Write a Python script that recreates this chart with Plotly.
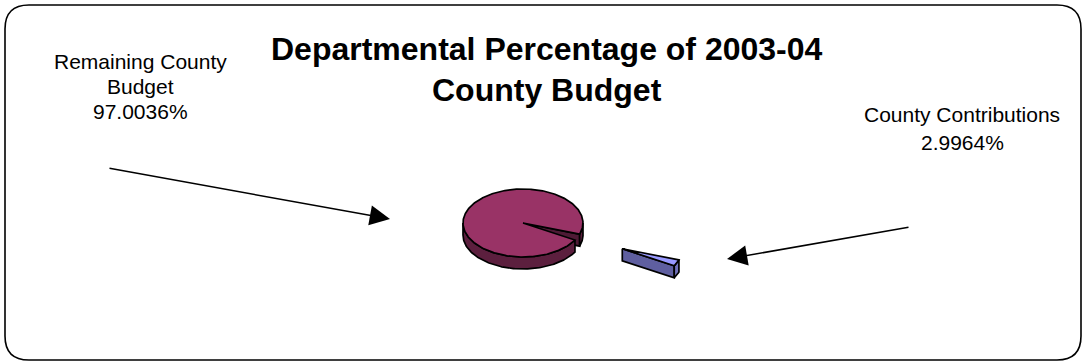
import numpy as np
import plotly.graph_objects as go

# ---- data ----
labels = ["Remaining County Budget", "County Contributions"]
label_lines = [["Remaining County", "Budget"], ["County Contributions"]]
values = [97.0036, 2.9964]
explode = [0.0, 1.82]          # pull-out distance, in pie radii
top_colors = ["#993366", "#9999FF"]
rim_colors = ["#5C1F3E", "#7070B8"]
wall_colors = ["#4E1A35", "#5F5FA0"]
title_lines = ["Departmental Percentage of 2003-04", "County Budget"]

# ---- pie geometry (pixel space) ----
W, H = 1083, 362
cx, cy = 523, 223
rx, ry, depth = 60, 34, 12
first_angle = 120  # degrees clockwise from 12 o'clock

fig = go.Figure()


def pt(c, t, dz=0.0):
    return c[0] + rx * np.cos(t), c[1] + ry * np.sin(t) + dz


def add_poly(xs, ys, color):
    xs = list(xs) + [xs[0]]
    ys = list(ys) + [ys[0]]
    fig.add_trace(go.Scatter(
        x=xs, y=ys, mode="lines", fill="toself", fillcolor=color,
        line=dict(color="black", width=1.7), hoverinfo="skip",
        showlegend=False))


total = sum(values)
cum = 0.0
slices = []
for i, v in enumerate(values):
    a0 = first_angle + cum / total * 360
    a1 = a0 + v / total * 360
    cum += v
    t0 = np.radians(a0 - 90)
    t1 = np.radians(a1 - 90)
    tm = 0.5 * (t0 + t1)
    c = (cx + explode[i] * rx * np.cos(tm), cy + explode[i] * ry * np.sin(tm))
    slices.append((i, t0, t1, c))

for i, t0, t1, c in slices:
    # radial walls facing the viewer
    for t, visible in ((t0, np.cos(t0) < 0), (t1, np.cos(t1) > 0)):
        if visible:
            px, py = pt(c, t)
            add_poly([c[0], px, px, c[0]], [c[1], py, py + depth, c[1] + depth],
                     wall_colors[i])
    # front rim (where sin t > 0)
    k0 = int(np.floor(t0 / (2 * np.pi))) - 1
    for k in range(k0, k0 + 4):
        lo = max(t0, 2 * np.pi * k)
        hi = min(t1, 2 * np.pi * k + np.pi)
        if hi > lo:
            ts = np.linspace(lo, hi, 120)
            xs_top, ys_top = pt(c, ts)
            xs = np.concatenate([xs_top, xs_top[::-1]])
            ys = np.concatenate([ys_top, ys_top[::-1] + depth])
            add_poly(xs, ys, rim_colors[i])
    # top face
    ts = np.linspace(t0, t1, 400)
    xs, ys = pt(c, ts)
    add_poly([c[0]] + list(xs), [c[1]] + list(ys), top_colors[i])

# ---- text ----
font = "Liberation Sans, Arial, sans-serif"
ann = []
for y, line in zip([49, 90], title_lines):
    ann.append(dict(x=547, y=y, text="<b>" + line + "</b>", showarrow=False,
                    xanchor="center", yanchor="middle",
                    font=dict(family=font, size=32, color="black")))

pct = [f"{v:.4f}%" for v in values]
left_text = label_lines[0] + [pct[0]]
for y, line in zip([61, 86, 111], left_text):
    ann.append(dict(x=140, y=y, text=line, showarrow=False, xanchor="center",
                    yanchor="middle", font=dict(family=font, size=21, color="black")))
right_text = label_lines[1] + [pct[1]]
for y, line in zip([114, 142], right_text):
    ann.append(dict(x=962, y=y, text=line, showarrow=False, xanchor="center",
                    yanchor="middle", font=dict(family=font, size=21, color="black")))

# leader arrows
for (x0, y0, x1, y1) in [(108, 168, 390, 219), (910, 227, 727, 259)]:
    ann.append(dict(x=x1, y=y1, ax=x0, ay=y0, xref="x", yref="y",
                    axref="x", ayref="y", text="", showarrow=True,
                    arrowhead=2, arrowsize=2.7, arrowwidth=1.5,
                    arrowcolor="black", standoff=0))

# rounded frame
x0, y0, x1, y1, r = 5, 5, 1081, 360, 24
frame = (f"M{x0+r},{y0} L{x1-r},{y0} Q{x1},{y0} {x1},{y0+r} "
         f"L{x1},{y1-r} Q{x1},{y1} {x1-r},{y1} L{x0+r},{y1} "
         f"Q{x0},{y1} {x0},{y1-r} L{x0},{y0+r} Q{x0},{y0} {x0+r},{y0} Z")

fig.update_layout(
    width=W, height=H, margin=dict(l=0, r=0, t=0, b=0),
    paper_bgcolor="white", plot_bgcolor="white",
    xaxis=dict(range=[0, W], visible=False, fixedrange=True),
    yaxis=dict(range=[H, 0], visible=False, fixedrange=True),
    annotations=ann,
    shapes=[dict(type="path", path=frame, xref="x", yref="y",
                 line=dict(color="black", width=1.6), layer="below")],
    showlegend=False,
)

fig.write_html("out.html", config={"displayModeBar": False})
